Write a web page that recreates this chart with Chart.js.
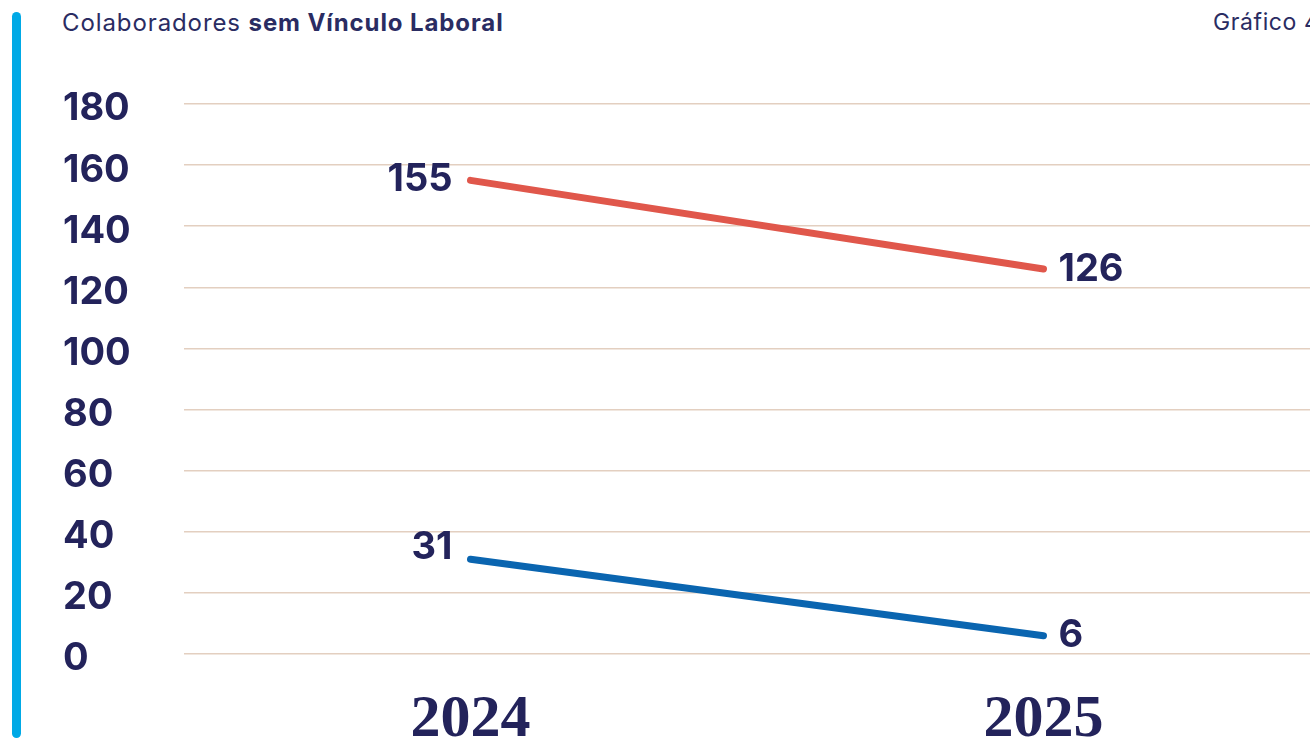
<!DOCTYPE html>
<html>
<head>
<meta charset="utf-8">
<script src="https://cdn.jsdelivr.net/npm/chart.js@4"></script>
<style>
  html, body { margin: 0; padding: 0; background: #fff; overflow: hidden; }
  body { width: 1310px; height: 740px; position: relative; }
  .side-bar {
    position: absolute; left: 12px; top: 12px; width: 9px; height: 726px;
    background: #00a9e6; border-radius: 5px;
  }
  .title {
    position: absolute; left: 62px; top: 8px; letter-spacing: 0.9px;
    font: 400 24px "Inter", sans-serif; color: #2a2c62; white-space: nowrap;
  }
  .title b { font-weight: 700; }
  .ref {
    position: absolute; left: 1213px; top: 8px; letter-spacing: 0.6px;
    font: 400 23px "Inter", sans-serif; color: #2a2c62; white-space: nowrap;
  }
  .chart-box { position: absolute; left: 0; top: 0; width: 1330px; height: 740px; }
</style>
</head>
<body>
<div class="side-bar"></div>
<div class="title">Colaboradores <b>sem Vínculo Laboral</b></div>
<div class="ref">Gráfico 4</div>
<div class="chart-box"><canvas id="chart"></canvas></div>

<script>
// --- DADOS ---
const years = ["2024", "2025"];
const seriesRed = [155, 126];
const seriesBlue = [31, 6];
const yTicks = [0, 20, 40, 60, 80, 100, 120, 140, 160, 180];

const navy = "#23235b";

// rótulos de valor junto a cada ponto
const valueLabels = {
  id: "valueLabels",
  afterDatasetsDraw(chart) {
    const ctx = chart.ctx;
    ctx.save();
    ctx.font = "700 38px Inter";
    ctx.fillStyle = navy;
    ctx.textBaseline = "middle";
    chart.data.datasets.forEach((ds, i) => {
      const meta = chart.getDatasetMeta(i);
      meta.data.forEach((pt, j) => {
        const dy = ds.labelDy[j];
        if (j === 0) {
          ctx.textAlign = "right";
          ctx.fillText(ds.data[j], pt.x - 18, pt.y + dy);
        } else {
          ctx.textAlign = "left";
          ctx.fillText(ds.data[j], pt.x + 15, pt.y + dy);
        }
      });
    });
    ctx.restore();
  },
};

new Chart(document.getElementById("chart"), {
  type: "line",
  data: {
    labels: years,
    datasets: [
      {
        data: seriesRed,
        borderColor: "#e0574b",
        labelDy: [-1, 1],
      },
      {
        data: seriesBlue,
        borderColor: "#0a65b0",
        labelDy: [-12, 0],
      },
    ],
  },
  options: {
    responsive: true,
    maintainAspectRatio: false,
    animation: false,
    layout: { padding: { left: 63, top: 104, right: 0, bottom: 0 } },
    elements: {
      line: { borderWidth: 7, borderCapStyle: "round", tension: 0 },
      point: { radius: 0, hoverRadius: 0 },
    },
    plugins: {
      legend: { display: false },
      tooltip: { enabled: false },
    },
    scales: {
      x: {
        offset: true,
        grid: { display: false },
        border: { display: false },
        ticks: {
          color: navy,
          font: { family: "Liberation Serif", weight: "700", size: 60 },
          padding: 22,
        },
        afterFit: (scale) => { scale.height = 86; },
      },
      y: {
        min: 0,
        max: 180,
        afterBuildTicks: (scale) => { scale.ticks = yTicks.map((v) => ({ value: v })); },
        grid: { color: "#e3cfc0", lineWidth: 1.5, drawTicks: false },
        border: { display: false },
        ticks: {
          color: navy,
          font: { family: "Inter", weight: "700", size: 38 },
          crossAlign: "far",
          padding: 0,
          labelOffset: 5,
        },
        afterFit: (scale) => { scale.width = 121; },
      },
    },
  },
  plugins: [valueLabels],
});
</script>
</body>
</html>
